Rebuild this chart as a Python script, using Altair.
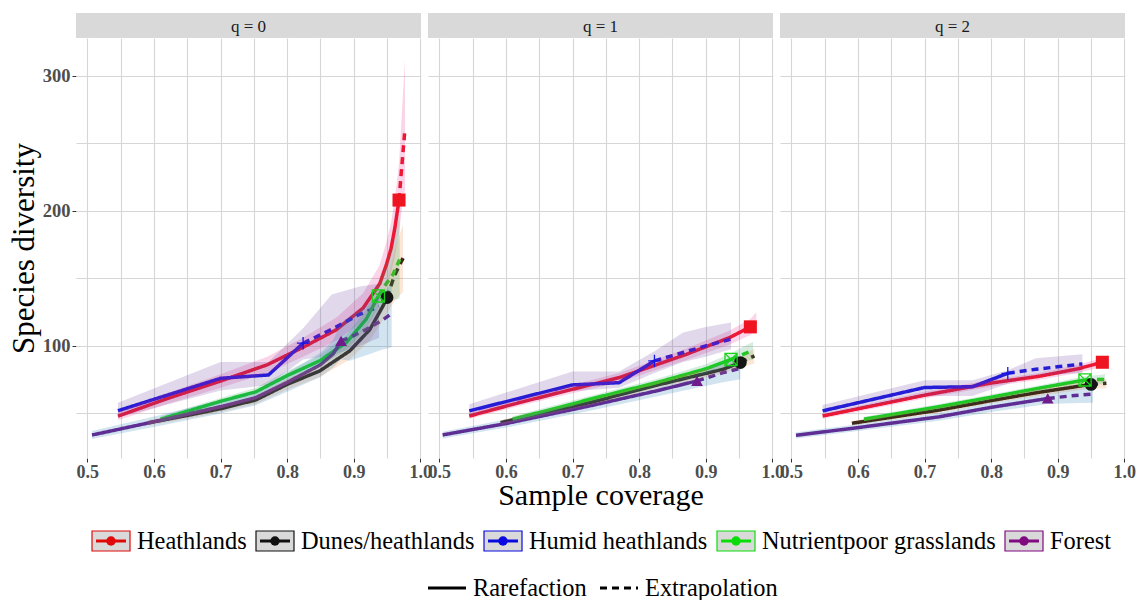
import altair as alt
import pandas as pd

# ---------------- data ----------------
SITES = ["Heathlands", "Dunes/heathlands", "Humid heathlands", "Nutrientpoor grasslands", "Forest"]
LINE_COLORS = ["#EE1420", "#151515", "#1414E6", "#18D418", "#701C8C"]
LEGEND_COLORS = ["#E00A0A", "#111111", "#0A0AE0", "#0ADC0A", "#800A80"]
BAND_FILLS = ["#E7298A", "#F08030", "#6A3D9A", "#2CA25F", "#1F78B4"]
SHAPES = ["square", "circle", "M-1,0H1M0,-1V1", "M-1,-1H1V1H-1ZM-1,-1L1,1M1,-1L-1,1", "triangle-up"]
SIZES = [170, 140, 330, 180, 190]
FILLED_SITES = ["Heathlands", "Dunes/heathlands", "Forest"]
OPEN_SITES = ["Humid heathlands", "Nutrientpoor grasslands"]
Q_LABELS = ["q = 0", "q = 1", "q = 2"]
METHODS = ["Rarefaction", "Extrapolation"]
METHOD_DASHES = [[1, 0], [7, 5]]
X_TICKS = [0.5, 0.55, 0.6, 0.65, 0.7, 0.75, 0.8, 0.85, 0.9, 0.95, 1.0]
Y_TICKS = [50, 100, 150, 200, 250, 300]

# q = 0
Q0_HEATH_X = [0.546, 0.62, 0.70, 0.77, 0.824, 0.874, 0.914, 0.939, 0.949, 0.956, 0.962, 0.968, 0.972, 0.977]
Q0_HEATH_Y = [48, 61, 74, 86, 99, 112, 128, 146, 160, 172, 188, 208, 232, 261]
Q0_HEATH_LO = [45, 57, 69, 80, 92, 104, 118, 133, 144, 154, 167, 183, 200, 216]
Q0_HEATH_HI = [51, 65, 79, 92, 106, 121, 139, 160, 177, 191, 210, 235, 270, 312]
Q0_HEATH_OBS = 11
Q0_DUNES_X = [0.591, 0.65, 0.70, 0.753, 0.80, 0.849, 0.894, 0.924, 0.944, 0.950, 0.961, 0.974]
Q0_DUNES_Y = [43, 48.5, 53.5, 60, 71.5, 81.5, 96.3, 112, 129.6, 135.8, 152, 165]
Q0_DUNES_LO = [41, 46, 51, 57, 67.5, 77, 90, 104, 119, 124, 133, 140]
Q0_DUNES_HI = [45, 51, 56, 63, 75.5, 86, 102.5, 120, 140, 147, 170, 190]
Q0_DUNES_OBS = 9
Q0_HUMID_X = [0.546, 0.70, 0.772, 0.824, 0.867, 0.909, 0.938]
Q0_HUMID_Y = [52, 76, 78.5, 102, 112.3, 123.4, 129]
Q0_HUMID_LO = [47, 67, 71, 90, 93, 100, 106]
Q0_HUMID_HI = [58, 88, 88, 113, 138, 144, 146]
Q0_HUMID_OBS = 3
Q0_NUTRI_X = [0.61, 0.70, 0.753, 0.80, 0.849, 0.889, 0.919, 0.937, 0.946, 0.959, 0.969]
Q0_NUTRI_Y = [45.7, 59, 66, 78, 89, 102.5, 120, 137, 144, 153, 164]
Q0_NUTRI_LO = [43.5, 56.5, 63, 74.5, 85, 97, 113, 128, 132, 134, 135]
Q0_NUTRI_HI = [48, 61.5, 69, 81.5, 93, 108, 127, 146, 157, 175, 197]
Q0_NUTRI_OBS = 7
Q0_FOREST_X = [0.507, 0.611, 0.70, 0.753, 0.80, 0.85, 0.869, 0.881, 0.894, 0.919, 0.941, 0.957]
Q0_FOREST_Y = [34, 45, 55, 61.7, 73, 86, 94, 103.7, 106.2, 112.3, 118.5, 124]
Q0_FOREST_LO = [31, 41, 50, 56, 66, 77, 84, 90, 89, 93, 97, 99]
Q0_FOREST_HI = [37, 49, 60, 67, 80, 95, 104, 117, 122, 130, 138, 146]
Q0_FOREST_OBS = 7

# q = 1
Q1_HEATH_X = [0.545, 0.62, 0.70, 0.77, 0.821, 0.871, 0.936, 0.967, 0.976]
Q1_HEATH_Y = [48.1, 58, 67.9, 76.5, 85.2, 93.8, 106.2, 114.1, 118]
Q1_HEATH_LO = [46, 55.5, 65, 73, 81.5, 89.5, 101, 108, 111]
Q1_HEATH_HI = [50.5, 60.5, 71, 80, 89, 98, 111.5, 120, 125]
Q1_HEATH_OBS = 7
Q1_DUNES_X = [0.592, 0.726, 0.826, 0.926, 0.952, 0.973]
Q1_DUNES_Y = [43.2, 58, 70.9, 82.7, 87.7, 92.6]
Q1_DUNES_LO = [41.5, 56, 68.5, 79.5, 84, 87]
Q1_DUNES_HI = [45, 60, 73.5, 86, 91.5, 98]
Q1_DUNES_OBS = 4
Q1_HUMID_X = [0.545, 0.70, 0.77, 0.823, 0.866, 0.90, 0.938]
Q1_HUMID_Y = [51.9, 71.1, 72.8, 88.9, 95.1, 100, 105]
Q1_HUMID_LO = [47.7, 66.5, 69, 80, 88, 92, 97.5]
Q1_HUMID_HI = [56.8, 81, 81, 96, 110, 114, 117.3]
Q1_HUMID_OBS = 3
Q1_NUTRI_X = [0.61, 0.70, 0.726, 0.826, 0.90, 0.938, 0.955, 0.971]
Q1_NUTRI_Y = [45.7, 57, 60.5, 72.8, 83, 90, 93.5, 96.8]
Q1_NUTRI_LO = [43.5, 54.5, 58, 70, 79.5, 85.5, 88, 90]
Q1_NUTRI_HI = [48, 59.5, 63, 75.5, 86.5, 94.5, 99, 103]
Q1_NUTRI_OBS = 5
Q1_FOREST_X = [0.505, 0.60, 0.726, 0.826, 0.887, 0.926, 0.952]
Q1_FOREST_Y = [34.1, 42.5, 55.6, 66.7, 74.1, 80.2, 83.5]
Q1_FOREST_LO = [31.5, 39.5, 52, 62.5, 69, 73, 75.3]
Q1_FOREST_HI = [36.5, 45.5, 59, 71, 79, 87, 91.5]
Q1_FOREST_OBS = 4

# q = 2
Q2_HEATH_X = [0.547, 0.70, 0.80, 0.872, 0.93, 0.967, 0.975]
Q2_HEATH_Y = [48.1, 63.5, 72.5, 77.5, 83, 87.9, 88.5]
Q2_HEATH_LO = [46, 61, 70, 75, 80, 84.5, 84.5]
Q2_HEATH_HI = [50, 66, 75, 80, 86, 91, 93]
Q2_HEATH_OBS = 5
Q2_DUNES_X = [0.591, 0.722, 0.80, 0.87, 0.950, 0.973]
Q2_DUNES_Y = [42.7, 52.5, 59.5, 65.5, 71.5, 72.3]
Q2_DUNES_LO = [41, 50.5, 57.5, 63, 68.5, 68.5]
Q2_DUNES_HI = [44.5, 54.5, 61.5, 68, 74.5, 76]
Q2_DUNES_OBS = 4
Q2_HUMID_X = [0.547, 0.70, 0.772, 0.825, 0.867, 0.937]
Q2_HUMID_Y = [51.9, 69.2, 69.8, 79.7, 82.7, 86.6]
Q2_HUMID_LO = [49, 63, 63, 72, 78, 80]
Q2_HUMID_HI = [56.3, 74.6, 74.6, 82, 90.9, 93.8]
Q2_HUMID_OBS = 3
Q2_NUTRI_X = [0.609, 0.722, 0.80, 0.87, 0.941, 0.971]
Q2_NUTRI_Y = [45.7, 55, 62, 68.5, 74.8, 75.2]
Q2_NUTRI_LO = [44, 53, 60, 66.5, 72, 71.5]
Q2_NUTRI_HI = [47.5, 57, 64, 70.5, 77.5, 79]
Q2_NUTRI_OBS = 4
Q2_FOREST_X = [0.507, 0.60, 0.722, 0.80, 0.885, 0.92, 0.953]
Q2_FOREST_Y = [33.8, 39.5, 47.5, 54.5, 61.1, 63, 64.4]
Q2_FOREST_LO = [31.5, 37, 44.5, 51, 57, 57.5, 58]
Q2_FOREST_HI = [36, 42, 50.5, 58, 65, 68, 70]
Q2_FOREST_OBS = 4

CURVES = [
    ("q = 0", "Heathlands", Q0_HEATH_X, Q0_HEATH_Y, Q0_HEATH_LO, Q0_HEATH_HI, Q0_HEATH_OBS),
    ("q = 0", "Dunes/heathlands", Q0_DUNES_X, Q0_DUNES_Y, Q0_DUNES_LO, Q0_DUNES_HI, Q0_DUNES_OBS),
    ("q = 0", "Humid heathlands", Q0_HUMID_X, Q0_HUMID_Y, Q0_HUMID_LO, Q0_HUMID_HI, Q0_HUMID_OBS),
    ("q = 0", "Nutrientpoor grasslands", Q0_NUTRI_X, Q0_NUTRI_Y, Q0_NUTRI_LO, Q0_NUTRI_HI, Q0_NUTRI_OBS),
    ("q = 0", "Forest", Q0_FOREST_X, Q0_FOREST_Y, Q0_FOREST_LO, Q0_FOREST_HI, Q0_FOREST_OBS),
    ("q = 1", "Heathlands", Q1_HEATH_X, Q1_HEATH_Y, Q1_HEATH_LO, Q1_HEATH_HI, Q1_HEATH_OBS),
    ("q = 1", "Dunes/heathlands", Q1_DUNES_X, Q1_DUNES_Y, Q1_DUNES_LO, Q1_DUNES_HI, Q1_DUNES_OBS),
    ("q = 1", "Humid heathlands", Q1_HUMID_X, Q1_HUMID_Y, Q1_HUMID_LO, Q1_HUMID_HI, Q1_HUMID_OBS),
    ("q = 1", "Nutrientpoor grasslands", Q1_NUTRI_X, Q1_NUTRI_Y, Q1_NUTRI_LO, Q1_NUTRI_HI, Q1_NUTRI_OBS),
    ("q = 1", "Forest", Q1_FOREST_X, Q1_FOREST_Y, Q1_FOREST_LO, Q1_FOREST_HI, Q1_FOREST_OBS),
    ("q = 2", "Heathlands", Q2_HEATH_X, Q2_HEATH_Y, Q2_HEATH_LO, Q2_HEATH_HI, Q2_HEATH_OBS),
    ("q = 2", "Dunes/heathlands", Q2_DUNES_X, Q2_DUNES_Y, Q2_DUNES_LO, Q2_DUNES_HI, Q2_DUNES_OBS),
    ("q = 2", "Humid heathlands", Q2_HUMID_X, Q2_HUMID_Y, Q2_HUMID_LO, Q2_HUMID_HI, Q2_HUMID_OBS),
    ("q = 2", "Nutrientpoor grasslands", Q2_NUTRI_X, Q2_NUTRI_Y, Q2_NUTRI_LO, Q2_NUTRI_HI, Q2_NUTRI_OBS),
    ("q = 2", "Forest", Q2_FOREST_X, Q2_FOREST_Y, Q2_FOREST_LO, Q2_FOREST_HI, Q2_FOREST_OBS),
]

rows = []
for q, site, xs, ys, los, his, obs in CURVES:
    for i in range(len(xs)):
        base = {"q": q, "site": site, "x": xs[i], "y": ys[i], "lo": los[i], "hi": his[i]}
        if i <= obs:
            rows.append({**base, "method": METHODS[0], "seg": site + "|" + METHODS[0]})
        if i >= obs:
            rows.append({**base, "method": METHODS[1], "seg": site + "|" + METHODS[1]})
        if i == obs:
            rows.append({**base, "method": "Observed", "seg": site + "|Observed"})
df = pd.DataFrame(rows)

# ---------------- styling ----------------
SERIF = "Liberation Serif"
PANEL_W = 345
PANEL_H = 420
STRIP_H = 25

x_scale = alt.Scale(domain=[0.483, 1.001], zero=False, nice=False)
y_scale = alt.Scale(domain=[17, 328], zero=False, nice=False)

x_axis = alt.Axis(
    values=X_TICKS, title=None, grid=True, domain=False,
    labelExpr="(round(datum.value*100) % 10 == 0) ? format(datum.value, '.1f') : ''",
    tickOpacity={"condition": {"test": "round(datum.value*100) % 10 == 0", "value": 1}, "value": 0},
    tickSize=4, tickColor="#333333", labelPadding=1, labelFlush=False, labelOverlap=False,
    labelFont=SERIF, labelFontSize=18, labelFontWeight="bold", labelColor="#4d4d4d",
)
y_axis = alt.Axis(
    values=Y_TICKS, title="Species diversity", grid=True, domain=False,
    labelExpr="(datum.value % 100 == 0) ? datum.label : ''",
    tickOpacity={"condition": {"test": "datum.value % 100 == 0", "value": 1}, "value": 0},
    tickSize=4, tickColor="#333333", labelPadding=2, labelFlush=False, labelOverlap=False,
    labelFont=SERIF, labelFontSize=18.5, labelFontWeight="bold", labelColor="#4d4d4d",
    titleFont=SERIF, titleFontSize=31, titleFontWeight="normal", titleColor="black",
    titlePadding=2,
)

X = alt.X("x:Q", scale=x_scale, axis=x_axis)
color_enc = alt.Color("site:N", scale=alt.Scale(domain=SITES, range=LINE_COLORS), legend=None)
shape_enc = alt.Shape("site:N", scale=alt.Scale(domain=SITES, range=SHAPES), legend=None)
size_enc = alt.Size("site:N", scale=alt.Scale(domain=SITES, range=SIZES), legend=None)

not_obs = "datum.method != 'Observed'"

lines = alt.Chart().transform_filter(not_obs).mark_line(strokeWidth=3.5).encode(
    x=X,
    y=alt.Y("y:Q", scale=y_scale, axis=y_axis),
    color=color_enc,
    strokeDash=alt.StrokeDash("method:N", scale=alt.Scale(domain=METHODS, range=METHOD_DASHES), legend=None),
    detail="seg:N",
)

bands = alt.Chart().transform_filter(not_obs).mark_area(opacity=0.2).encode(
    x=X,
    y=alt.Y("lo:Q", scale=y_scale, axis=y_axis),
    y2="hi:Q",
    fill=alt.Fill("site:N", scale=alt.Scale(domain=SITES, range=BAND_FILLS), legend=None),
    detail="site:N",
)

filled_test = "datum.method == 'Observed' && indexof(%s, datum.site) >= 0" % str(FILLED_SITES)
open_test = "datum.method == 'Observed' && indexof(%s, datum.site) >= 0" % str(OPEN_SITES)

pts_filled = alt.Chart().transform_filter(filled_test).mark_point(filled=True, opacity=1).encode(
    x=X, y=alt.Y("y:Q", scale=y_scale, axis=y_axis),
    color=color_enc, shape=shape_enc, size=size_enc,
)
pts_open = alt.Chart().transform_filter(open_test).mark_point(filled=False, opacity=1, strokeWidth=1.3).encode(
    x=X, y=alt.Y("y:Q", scale=y_scale, axis=y_axis),
    color=color_enc, shape=shape_enc, size=size_enc,
)

strip_rect = alt.Chart().transform_aggregate(n="count()", groupby=["q"]).mark_rect(color="#d9d9d9").encode(
    x=alt.value(0), x2=alt.value(PANEL_W), y=alt.value(-STRIP_H), y2=alt.value(0)
)
strip_text = alt.Chart().transform_aggregate(n="count()", groupby=["q"]).mark_text(
    font=SERIF, fontSize=17, color="#1a1a1a", baseline="middle", align="center"
).encode(text="q:N", x=alt.value(PANEL_W / 2), y=alt.value(-STRIP_H / 2 + 1))

panel = alt.layer(lines, bands, pts_filled, pts_open, strip_rect, strip_text).properties(
    width=PANEL_W, height=PANEL_H
)

facet = panel.facet(
    column=alt.Column(
        "q:N", title="Sample coverage", sort=Q_LABELS,
        header=alt.Header(
            labels=False, titleOrient="bottom", titleFont=SERIF, titleFontSize=30,
            titleFontWeight="normal", titleColor="black", titlePadding=-10,
        ),
    ),
    data=df,
    spacing=7,
)

# ---------------- legends ----------------
LEG_FONT = 24.4


def site_item(name, col):
    d = pd.DataFrame({"site": [name]})
    b = alt.Chart(d)
    box = b.mark_rect(fill="#d9d9d9", stroke=col, strokeWidth=1.2).encode(
        x=alt.value(0), x2=alt.value(38), y=alt.value(0), y2=alt.value(20))
    ln = b.mark_rule(color=col, strokeWidth=3).encode(x=alt.value(4), x2=alt.value(34), y=alt.value(10))
    dot = b.mark_point(filled=True, color=col, opacity=1, size=90, shape="circle").encode(
        x=alt.value(19), y=alt.value(10))
    txt = b.mark_text(align="left", baseline="middle", font=SERIF, fontSize=LEG_FONT, color="black").encode(
        x=alt.value(45), y=alt.value(11), text="site:N")
    return alt.layer(box, ln, dot, txt).properties(width=38, height=20)


def method_item(name, dash):
    d = pd.DataFrame({"method": [name]})
    b = alt.Chart(d)
    ln = b.mark_rule(color="black", strokeWidth=3, strokeDash=dash).encode(
        x=alt.value(0), x2=alt.value(38), y=alt.value(10))
    txt = b.mark_text(align="left", baseline="middle", font=SERIF, fontSize=LEG_FONT, color="black").encode(
        x=alt.value(45), y=alt.value(11), text="method:N")
    return alt.layer(ln, txt).properties(width=38, height=20)


def spacer(w):
    return alt.Chart(pd.DataFrame({"s": [0]})).mark_point(opacity=0).encode(
        x=alt.value(0), y=alt.value(0)).properties(width=w, height=1)


row1 = alt.hconcat(spacer(7), *[site_item(s, c) for s, c in zip(SITES, LEGEND_COLORS)], spacing=8)
row2 = alt.hconcat(spacer(339), *[method_item(m, d) for m, d in zip(METHODS, METHOD_DASHES)], spacing=11)

legends = alt.vconcat(row1, row2, spacing=21)

chart = alt.vconcat(facet, legends, spacing=17).properties(
    padding={"left": 8, "top": 13, "right": 0, "bottom": 0},
    background="white",
).configure_view(strokeWidth=0).configure_axis(
    gridColor="#d6d6d6", gridWidth=1.1,
)

chart.save("out.html", embed_options={"renderer": "svg", "actions": False})
